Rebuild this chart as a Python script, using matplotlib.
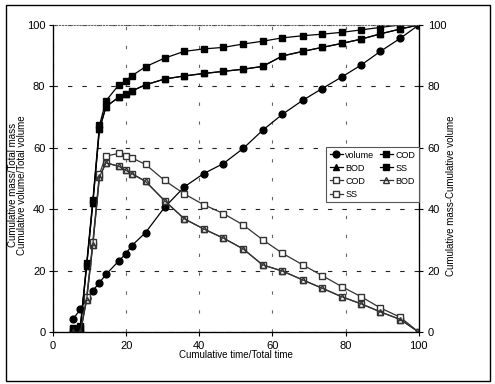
import matplotlib
matplotlib.use("Agg")
import matplotlib.pyplot as plt
from matplotlib.patches import Rectangle

plt.rcParams['font.family'] = ['Liberation Sans Narrow', 'Liberation Sans', 'DejaVu Sans']

time_pct = [5.5, 7.5, 9.2, 10.9, 12.7, 14.5, 18.0, 19.9, 21.5, 25.3, 30.5, 35.9,
            41.2, 46.6, 52.0, 57.3, 62.7, 68.3, 73.6, 79.0, 84.3, 89.5, 95.0, 100]
volume = [4.2, 7.5, 11.0, 13.5, 16.1, 18.8, 23.2, 25.5, 28.1, 32.4, 40.6, 47.3,
          51.6, 54.9, 59.8, 65.7, 70.9, 75.5, 79.3, 83.1, 87.0, 91.4, 95.7, 100]
cod_cum = [1.0, 1.5, 21.5, 42.0, 66.0, 73.4, 76.5, 77.5, 78.5, 80.5, 82.4, 83.4,
           84.2, 84.9, 85.6, 86.5, 89.9, 91.4, 92.7, 94.0, 95.4, 97.1, 98.7, 100]
bod_cum = [1.0, 1.5, 21.5, 42.0, 66.0, 73.4, 76.5, 77.5, 78.5, 80.5, 82.4, 83.4,
           84.2, 84.9, 85.6, 86.5, 89.9, 91.4, 92.7, 94.0, 95.4, 97.1, 98.7, 100]
ss_cum = [1.5, 2.0, 22.4, 43.0, 67.3, 75.3, 80.5, 81.8, 83.4, 86.4, 89.2, 91.4,
          92.2, 92.7, 93.8, 94.7, 95.8, 96.5, 97.0, 97.6, 98.4, 99.2, 100, 100]
cod_diff = [0.0, 0.0, 10.5, 28.5, 50.5, 55.1, 54.0, 52.7, 51.6, 49.1, 42.8, 36.9,
            33.6, 30.6, 27.1, 21.9, 19.9, 17.0, 14.3, 11.5, 9.2, 6.6, 4.1, 0]
bod_diff = [0.0, 0.0, 10.5, 28.5, 50.5, 55.1, 54.0, 52.7, 51.6, 49.1, 42.8, 36.9,
            33.6, 30.6, 27.1, 21.9, 19.9, 17.0, 14.3, 11.5, 9.2, 6.6, 4.1, 0]
ss_diff = [0.0, 0.0, 11.4, 29.5, 51.5, 57.3, 58.2, 57.5, 56.8, 54.6, 49.4, 45.0,
           41.5, 38.6, 34.9, 30.1, 25.7, 21.9, 18.4, 14.8, 11.5, 7.9, 4.8, 0]

xticks = [0, 20, 40, 60, 80, 100]
yticks = [0, 20, 40, 60, 80, 100]

fig = plt.figure(figsize=(4.95, 3.84), dpi=100)
ax = fig.add_axes([0.107, 0.135, 0.739, 0.800])

lw = 0.9
ms = 4.3
h_vol, = ax.plot(time_pct, volume, '-o', color='black', lw=lw, ms=ms + 0.6, label='volume')
h_bod, = ax.plot(time_pct, bod_cum, '-^', color='black', lw=lw, ms=ms, label='BOD')
h_codd, = ax.plot(time_pct, cod_diff, '-s', color='#333333', mfc='white', mec='#333333', lw=lw, ms=ms, label='COD')
h_ssd, = ax.plot(time_pct, ss_diff, '-s', color='#333333', mfc='white', mec='#333333', lw=lw, ms=ms, label='SS')
h_cod, = ax.plot(time_pct, cod_cum, '-s', color='black', lw=lw, ms=ms, label='COD')
h_ss, = ax.plot(time_pct, ss_cum, '-s', color='black', lw=lw, ms=ms + 0.3, label='SS')
h_bodd, = ax.plot(time_pct, bod_diff, '-^', color='#333333', mfc='none', mec='#333333', lw=lw, ms=ms - 0.5, label='BOD')

ax.set_xlim(0, 100)
ax.set_ylim(0, 100)
ax.set_xticks(xticks)
ax.set_yticks(yticks)
ax.tick_params(labelsize=8, length=3, width=0.8)
ax.tick_params(axis='y', pad=2.5)
ax.yaxis.grid(True, color='#222222', linestyle=(0, (4, 9)), linewidth=0.8)
ax.xaxis.grid(True, color='#666666', linestyle=(0, (3, 14)), linewidth=0.8)

for s in ['left', 'right', 'bottom']:
    ax.spines[s].set_linewidth(0.9)
ax.spines['top'].set_linestyle(':')
ax.spines['top'].set_color('#666666')

ax.set_xlabel('Cumulative time/Total time', fontsize=7)
ax.xaxis.set_label_coords(0.5, -0.058)
ax.set_ylabel('Cumulative mass/Total mass\nCumulative volume/Total volume', fontsize=7, linespacing=0.95)
ax.yaxis.set_label_coords(-0.07, 0.48)

ax2 = ax.twinx()
ax2.set_ylim(0, 100)
ax2.set_yticks(yticks)
ax2.tick_params(labelsize=8, length=3, width=0.8)
ax2.set_ylabel('Cumulative mass-Cumulative volume', fontsize=7)
ax2.yaxis.set_label_coords(1.075, 0.445)
ax2.spines['top'].set_visible(False)

leg = ax2.legend(handles=[h_vol, h_bod, h_codd, h_ssd, h_cod, h_ss, h_bodd], ncol=2,
                 loc='upper right', bbox_to_anchor=(1.0, 0.603), fontsize=6.5,
                 frameon=True, fancybox=False, edgecolor='#555555', framealpha=1,
                 handlelength=1.4, handletextpad=0.3, columnspacing=0.6,
                 labelspacing=0.45, borderpad=0.4, borderaxespad=0)
leg.get_frame().set_linewidth(0.8)

fig.patches.append(Rectangle((6 / 495, 3 / 384), 484 / 495, 376 / 384, transform=fig.transFigure,
                             fill=False, edgecolor='black', linewidth=1.0))

fig.savefig('out.png', dpi=100)
